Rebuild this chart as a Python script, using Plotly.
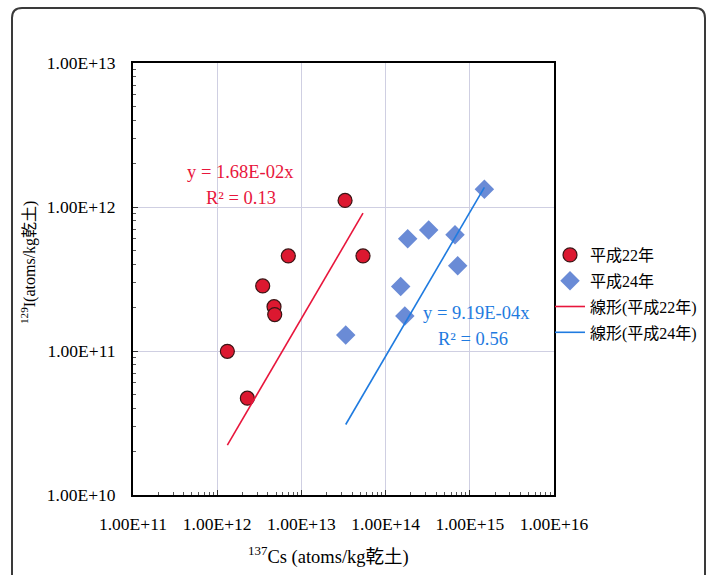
import plotly.graph_objects as go

# ---- data ----
cs_h22 = [1.32e12, 2.28e12, 3.47e12, 4.73e12, 4.82e12, 6.99e12, 3.30e13, 5.39e13]
i_h22 = [9.95e10, 4.70e10, 2.83e11, 2.03e11, 1.79e11, 4.57e11, 1.11e12, 4.57e11]
cs_h24 = [3.36e13, 1.51e14, 1.69e14, 1.83e14, 3.25e14, 6.67e14, 7.18e14, 1.49e15]
i_h24 = [1.29e11, 2.80e11, 1.75e11, 6.03e11, 6.92e11, 6.42e11, 3.91e11, 1.33e12]
slope_h22 = 1.68e-2
slope_h24 = 9.19e-4
eq_h22 = ["y = 1.68E-02x", "R² = 0.13"]
eq_h24 = ["y = 9.19E-04x", "R² = 0.56"]
names = ["平成22年", "平成24年", "線形(平成22年)", "線形(平成24年)"]
x_decades = [11, 12, 13, 14, 15, 16]
y_decades = [10, 11, 12, 13]
x_ticktext = ["1.00E+%d" % d for d in x_decades]
y_ticktext = ["1.00E+%d" % d for d in y_decades]

RED = "#e8163c"
BLUE = "#1f7be0"
FONT = "Liberation Serif, Noto Sans CJK JP"

W, H = 716, 575
L, R, T, B = 133, 162, 63, 80
PW, PH = W - L - R, H - T - B


def px(xp):
    return (xp - L) / PW


def py(yp):
    return (H - B - yp) / PH


fig = go.Figure()
fig.add_trace(go.Scatter(
    x=cs_h22, y=i_h22, mode="markers", name=names[0],
    marker=dict(symbol="circle", size=14, color="#dc1830",
                line=dict(color="#3a1414", width=1.2))))
fig.add_trace(go.Scatter(
    x=cs_h24, y=i_h24, mode="markers", name=names[1],
    marker=dict(symbol="diamond", size=15, color="#6a8bd6",
                line=dict(width=0))))
xr22 = [min(cs_h22), max(cs_h22)]
xr24 = [min(cs_h24), max(cs_h24)]
fig.add_trace(go.Scatter(
    x=xr22, y=[slope_h22 * v for v in xr22], mode="lines", name=names[2],
    line=dict(color=RED, width=1.6)))
fig.add_trace(go.Scatter(
    x=xr24, y=[slope_h24 * v for v in xr24], mode="lines", name=names[3],
    line=dict(color=BLUE, width=1.6)))

minor_x = [m * 10 ** d for d in x_decades[:-1] for m in range(2, 10)]
minor_y = [m * 10 ** d for d in y_decades[:-1] for m in range(2, 10)]

axis_common = dict(
    type="log", showline=True, linecolor="black", linewidth=2, mirror=True,
    showgrid=True, gridcolor="#cfcfe2", gridwidth=1,
    ticks="inside", ticklen=5, tickcolor="#333", zeroline=False,
    tickfont=dict(family=FONT, size=17.5, color="black"),
)
fig.update_xaxes(
    **axis_common, range=[11, 16],
    tickmode="array", tickvals=[10 ** d for d in x_decades], ticktext=x_ticktext,
    ticklabelstandoff=12,
    minor=dict(tickvals=minor_x, ticks="inside", ticklen=3, tickcolor="#555", showgrid=False))
fig.update_yaxes(
    **axis_common, range=[10, 13],
    tickmode="array", tickvals=[10 ** d for d in y_decades], ticktext=y_ticktext,
    ticklabelstandoff=12,
    minor=dict(tickvals=minor_y, ticks="inside", ticklen=3, tickcolor="#555", showgrid=False))

ann = []
ann.append(dict(x=px(240), y=py(172), text=eq_h22[0], font=dict(color=RED, size=18.5)))
ann.append(dict(x=px(241), y=py(198), text=eq_h22[1], font=dict(color=RED, size=18.5)))
ann.append(dict(x=px(476), y=py(313), text=eq_h24[0], font=dict(color=BLUE, size=18.5)))
ann.append(dict(x=px(473), y=py(339), text=eq_h24[1], font=dict(color=BLUE, size=18.5)))
ann.append(dict(x=px(328), y=py(555), text="<sup>137</sup>Cs (atoms/kg乾土)",
                font=dict(color="black", size=18.5)))
ann.append(dict(x=px(28), y=py(263), text="<sup>129</sup>I(atoms/kg乾土)", textangle=-90,
                font=dict(color="black", size=16)))
for a in ann:
    a.update(xref="paper", yref="paper", showarrow=False, xanchor="center", yanchor="middle")

# outer rounded frame
x0, x1, y0, y1, r = 12, 705, 8, 600, 10
path = ("M {a},{b} L {a},{c} Q {a},{d} {e},{d} L {f},{d} Q {g},{d} {g},{c} L {g},{b}".format(
    a=px(x0), b=py(y1), c=py(y0 + r), d=py(y0), e=px(x0 + r), f=px(x1 - r), g=px(x1)))
fig.add_shape(type="path", path=path, xref="paper", yref="paper",
              line=dict(color="#3a3a3a", width=2), layer="below")

fig.update_layout(
    width=W, height=H, margin=dict(l=L, r=R, t=T, b=B),
    paper_bgcolor="white", plot_bgcolor="white",
    font=dict(family=FONT, size=16, color="black"),
    annotations=ann,
    legend=dict(x=px(550), y=py(238), xanchor="left", yanchor="top",
                font=dict(family=FONT, size=16, color="black"),
                tracegroupgap=2, bgcolor="rgba(0,0,0,0)"),
)
for i, tr in enumerate(fig.data):
    tr.legendgroup = "g%d" % i

fig.write_html("out.html")
